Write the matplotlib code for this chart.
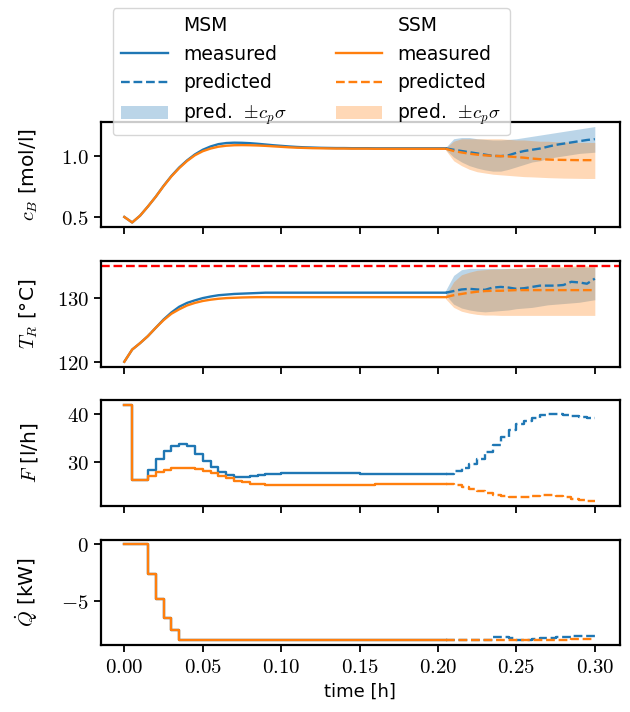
import numpy as np
import matplotlib
matplotlib.use("Agg")
import matplotlib.pyplot as plt
from matplotlib.lines import Line2D
from matplotlib.patches import Patch
from matplotlib.ticker import MultipleLocator, FormatStrFormatter

plt.rcParams.update({
    "font.family": ["DejaVu Sans"],
    "font.size": 12.5,
    "mathtext.fontset": "cm",
    "axes.linewidth": 1.6,
    "xtick.major.width": 1.3,
    "ytick.major.width": 1.3,
    "xtick.major.size": 5,
    "ytick.major.size": 5,
    "xtick.labelsize": 15,
    "ytick.labelsize": 15,
})

# time grids [h]: measured 0 .. 0.205, predicted 0.205 .. 0.3 (dt = 0.005)
t_meas = np.round(np.arange(0, 0.2051, 0.005), 3)
t_pred = np.round(np.arange(0.205, 0.3001, 0.005), 3)

# c_B [mol/l]
cB_msm = [0.50, 0.455, 0.51, 0.585, 0.665, 0.754, 0.835, 0.905, 0.963, 1.012,
          1.05, 1.077, 1.096, 1.105, 1.108, 1.107, 1.104, 1.099, 1.093, 1.087,
          1.082, 1.077, 1.073, 1.07, 1.068, 1.066, 1.065, 1.064, 1.064, 1.063,
          1.063, 1.063, 1.062, 1.062, 1.062, 1.062, 1.062, 1.062, 1.062, 1.062,
          1.062, 1.062]
cB_ssm = [0.50, 0.455, 0.51, 0.585, 0.665, 0.752, 0.832, 0.9, 0.958, 1.005,
          1.038, 1.06, 1.075, 1.083, 1.087, 1.088, 1.087, 1.085, 1.082, 1.078,
          1.074, 1.07, 1.067, 1.065, 1.063, 1.062, 1.061, 1.06, 1.06, 1.059,
          1.059, 1.059, 1.058, 1.058, 1.058, 1.058, 1.058, 1.058, 1.058, 1.058,
          1.058, 1.058]
cB_msm_pred = [1.062, 1.05, 1.04, 1.03, 1.02, 1.01, 1.0, 0.998, 1.005, 1.025,
               1.04, 1.05, 1.06, 1.075, 1.09, 1.10, 1.11, 1.12, 1.13, 1.137]
cB_msm_hi = [1.07, 1.14, 1.15, 1.15, 1.14, 1.135, 1.13, 1.13, 1.135, 1.14,
             1.15, 1.16, 1.17, 1.18, 1.19, 1.20, 1.21, 1.22, 1.23, 1.24]
cB_msm_lo = [1.05, 0.99, 0.95, 0.92, 0.90, 0.885, 0.875, 0.875, 0.89, 0.91,
             0.93, 0.95, 0.96, 0.98, 0.99, 1.0, 1.01, 1.02, 1.025, 1.03]
cB_ssm_pred = [1.058, 1.04, 1.028, 1.018, 1.01, 1.004, 1.0, 0.998, 0.995, 0.99,
               0.985, 0.978, 0.973, 0.97, 0.968, 0.967, 0.966, 0.965, 0.965, 0.965]
cB_ssm_hi = [1.065, 1.12, 1.14, 1.14, 1.14, 1.14, 1.14, 1.14, 1.135, 1.13,
             1.13, 1.125, 1.12, 1.12, 1.115, 1.115, 1.11, 1.11, 1.11, 1.11]
cB_ssm_lo = [1.045, 0.96, 0.92, 0.89, 0.87, 0.86, 0.85, 0.845, 0.84, 0.835,
             0.83, 0.828, 0.825, 0.822, 0.82, 0.818, 0.817, 0.816, 0.815, 0.815]

# T_R [degC]
T_max = 135
T_msm = [120.0, 121.9, 122.9, 124.0, 125.3, 126.6, 127.7, 128.6, 129.2, 129.6,
         129.95, 130.2, 130.4, 130.5, 130.6, 130.65, 130.7, 130.75, 130.8, 130.8,
         130.8, 130.8, 130.8, 130.8, 130.8, 130.8, 130.8, 130.8, 130.8, 130.8,
         130.8, 130.8, 130.8, 130.8, 130.8, 130.8, 130.8, 130.8, 130.8, 130.8,
         130.8, 130.8]
T_ssm = [120.0, 121.9, 122.9, 124.0, 125.3, 126.5, 127.5, 128.2, 128.8, 129.2,
         129.5, 129.7, 129.85, 129.95, 130.0, 130.05, 130.08, 130.1, 130.1, 130.1,
         130.1, 130.1, 130.1, 130.1, 130.1, 130.1, 130.1, 130.1, 130.1, 130.1,
         130.1, 130.1, 130.1, 130.1, 130.1, 130.1, 130.1, 130.1, 130.1, 130.1,
         130.1, 130.1]
T_msm_pred = [130.8, 131.05, 131.3, 131.4, 131.3, 131.25, 131.6, 131.7, 131.6, 131.4,
              131.5, 131.7, 131.9, 131.9, 131.9, 132.0, 132.5, 132.4, 132.2, 133.0]
T_msm_hi = [131.2, 133.5, 134.4, 134.6, 134.6, 134.6, 134.6, 134.6, 134.6, 134.6,
            134.6, 134.7, 134.7, 134.7, 134.7, 134.7, 134.8, 134.8, 134.8, 134.8]
T_msm_lo = [130.4, 129.0, 128.4, 128.1, 127.9, 127.8, 127.9, 128.0, 128.1, 128.3,
            128.4, 128.5, 128.7, 128.9, 129.0, 129.1, 129.2, 129.3, 129.5, 129.7]
T_ssm_pred = [130.1, 130.4, 130.6, 130.8, 130.95, 131.05, 131.1, 131.1, 131.15, 131.2,
              131.2, 131.2, 131.2, 131.2, 131.2, 131.2, 131.2, 131.2, 131.2, 131.2]
T_ssm_hi = [130.4, 132.5, 133.6, 134.0, 134.3, 134.4, 134.5, 134.5, 134.6, 134.6,
            134.7, 134.7, 134.8, 134.8, 134.9, 134.9, 135.0, 135.0, 135.0, 135.0]
T_ssm_lo = [129.8, 128.5, 127.9, 127.6, 127.4, 127.3, 127.3, 127.25, 127.25, 127.25,
            127.25, 127.25, 127.25, 127.25, 127.25, 127.25, 127.25, 127.25, 127.25, 127.25]

# F [l/h]
F_msm = [42.0, 26.0, 26.0, 28.2, 30.6, 32.3, 33.2, 33.7, 33.2, 31.6,
         30.2, 28.8, 27.8, 27.1, 26.8, 26.8, 26.9, 27.1, 27.3, 27.4,
         27.5, 27.5, 27.5, 27.5, 27.5, 27.5, 27.5, 27.5, 27.5, 27.5,
         27.45, 27.45, 27.45, 27.45, 27.4, 27.4, 27.4, 27.4, 27.4, 27.4,
         27.4, 27.4]
F_ssm = [42.0, 26.0, 26.0, 26.9, 27.8, 28.2, 28.6, 28.7, 28.7, 28.4,
         28.0, 27.5, 27.0, 26.4, 25.9, 25.6, 25.3, 25.15, 25.05, 25.0,
         25.0, 25.0, 25.0, 25.0, 25.0, 25.0, 25.05, 25.05, 25.1, 25.1,
         25.1, 25.1, 25.15, 25.15, 25.15, 25.2, 25.2, 25.2, 25.2, 25.2,
         25.2, 25.2]
F_msm_pred = [27.4, 27.9, 28.6, 29.5, 30.6, 32.0, 33.6, 35.3, 36.8, 37.9,
              38.7, 39.3, 39.8, 40.0, 40.0, 39.8, 39.6, 39.4, 39.3, 39.3]
F_ssm_pred = [25.2, 25.0, 24.6, 24.2, 23.7, 23.2, 22.8, 22.6, 22.4, 22.4,
              22.4, 22.6, 22.8, 22.8, 22.6, 22.4, 22.1, 21.8, 21.6, 21.6]

# Q_dot [kW]
Q_msm = [0.0, 0.0, 0.0, -2.6, -4.85, -6.5, -7.6] + [-8.47] * 35
Q_ssm = [0.0, 0.0, 0.0, -2.6, -4.85, -6.5, -7.6] + [-8.47] * 35
Q_msm_pred = [-8.47, -8.47, -8.47, -8.47, -8.47, -8.47, -8.17, -8.2, -8.3, -8.45,
              -8.45, -8.35, -8.3, -8.28, -8.2, -8.15, -8.12, -8.1, -8.08, -8.08]
Q_ssm_pred = [-8.47, -8.47, -8.47, -8.47, -8.47, -8.47, -8.47, -8.47, -8.47, -8.47,
              -8.47, -8.47, -8.47, -8.47, -8.45, -8.43, -8.4, -8.38, -8.38, -8.38]

c_msm, c_ssm = "#1f77b4", "#ff7f0e"
lw = 1.7

fig, axs = plt.subplots(4, 1, figsize=(6.3, 7.12), dpi=100, sharex=True)
fig.subplots_adjust(left=0.160, right=0.984, top=0.829, bottom=0.094, hspace=0.32)

# c_B
ax = axs[0]
ax.plot(t_meas, cB_msm, color=c_msm, lw=lw)
ax.plot(t_meas, cB_ssm, color=c_ssm, lw=lw)
ax.fill_between(t_pred, cB_msm_lo, cB_msm_hi, color=c_msm, alpha=0.3, lw=0)
ax.fill_between(t_pred, cB_ssm_lo, cB_ssm_hi, color=c_ssm, alpha=0.3, lw=0)
ax.plot(t_pred, cB_msm_pred, color=c_msm, lw=lw, ls="--")
ax.plot(t_pred, cB_ssm_pred, color=c_ssm, lw=lw, ls="--")
ax.set_ylabel(r"$c_B$ [mol/l]")
ax.yaxis.set_major_locator(MultipleLocator(0.5))
ax.yaxis.set_major_formatter(FormatStrFormatter("$%.1f$"))

# T_R
ax = axs[1]
ax.plot(t_meas, T_msm, color=c_msm, lw=lw)
ax.plot(t_meas, T_ssm, color=c_ssm, lw=lw)
ax.fill_between(t_pred, T_msm_lo, T_msm_hi, color=c_msm, alpha=0.3, lw=0)
ax.fill_between(t_pred, T_ssm_lo, T_ssm_hi, color=c_ssm, alpha=0.3, lw=0)
ax.plot(t_pred, T_msm_pred, color=c_msm, lw=lw, ls="--")
ax.plot(t_pred, T_ssm_pred, color=c_ssm, lw=lw, ls="--")
ax.axhline(T_max, color="red", ls="--", lw=lw)
ax.set_ylabel(r"$T_R$ [°C]")
ax.yaxis.set_major_locator(MultipleLocator(10))
ax.yaxis.set_major_formatter(FormatStrFormatter("$%d$"))

# F
ax = axs[2]
ax.plot(t_meas, F_msm, color=c_msm, lw=lw, drawstyle="steps-post")
ax.plot(t_meas, F_ssm, color=c_ssm, lw=lw, drawstyle="steps-post")
ax.plot(t_pred, F_msm_pred, color=c_msm, lw=lw, ls="--", drawstyle="steps-post")
ax.plot(t_pred, F_ssm_pred, color=c_ssm, lw=lw, ls="--", drawstyle="steps-post")
ax.set_ylabel(r"$F$ [l/h]")
ax.yaxis.set_major_locator(MultipleLocator(10))
ax.yaxis.set_major_formatter(FormatStrFormatter("$%d$"))

# Q
ax = axs[3]
ax.plot(t_meas, Q_msm, color=c_msm, lw=lw, drawstyle="steps-post")
ax.plot(t_meas, Q_ssm, color=c_ssm, lw=lw, drawstyle="steps-post")
ax.plot(t_pred, Q_msm_pred, color=c_msm, lw=lw, ls="--", drawstyle="steps-post")
ax.plot(t_pred, Q_ssm_pred, color=c_ssm, lw=lw, ls="--", drawstyle="steps-post")
ax.set_ylabel(r"$\dot{Q}$ [kW]")
ax.yaxis.set_major_locator(MultipleLocator(5))
ax.yaxis.set_major_formatter(FormatStrFormatter("$%d$"))
ax.set_xlabel("time [h]", fontsize=13)
ax.set_xlim(-0.015, 0.316)
ax.xaxis.set_major_locator(MultipleLocator(0.05))
ax.xaxis.set_major_formatter(FormatStrFormatter("$%.2f$"))

for a in axs:
    a.yaxis.label.set_fontsize(14.5)
    a.yaxis.set_label_coords(-0.118, 0.5)

blank = Line2D([], [], color="none")
handles = [blank,
           Line2D([], [], color=c_msm, lw=lw),
           Line2D([], [], color=c_msm, lw=lw, ls="--"),
           Patch(facecolor=c_msm, alpha=0.3, lw=0),
           blank,
           Line2D([], [], color=c_ssm, lw=lw),
           Line2D([], [], color=c_ssm, lw=lw, ls="--"),
           Patch(facecolor=c_ssm, alpha=0.3, lw=0)]
labels = ["MSM", "measured", "predicted", r"pred.  $\pm c_p\sigma$",
          "SSM", "measured", "predicted", r"pred.  $\pm c_p\sigma$"]
fig.legend(handles, labels, ncol=2, loc="upper center", bbox_to_anchor=(0.494, 1.002),
           handlelength=2.5, columnspacing=2.6, fontsize=13.5, borderpad=0.45)

fig.savefig("out.png", dpi=100)
